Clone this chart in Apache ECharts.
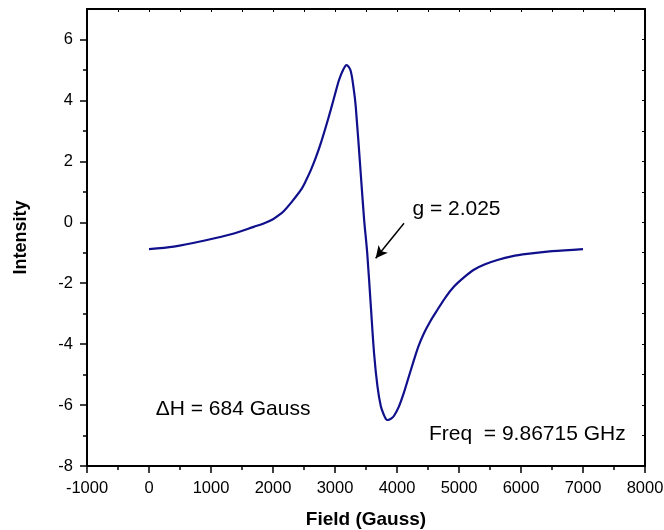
<!DOCTYPE html>
<html>
<head>
<meta charset="utf-8">
<script src="https://cdn.jsdelivr.net/npm/echarts@6/dist/echarts.min.js"></script>
<style>html,body{margin:0;padding:0;background:#fff}#c{width:664px;height:530px}</style>
</head>
<body>
<div id="c"></div>
<script>
// Field (Gauss)
var fieldValues = [0, 400, 900, 1370, 1690, 1850, 2000, 2100, 2180, 2300, 2450, 2530, 2610, 2690, 2770, 2850, 2930, 3000, 3065, 3130, 3185, 3250, 3300, 3335, 3415, 3470, 3520, 3575, 3630, 3685, 3740, 3790, 3820, 3845, 3870, 3910, 3950, 4030, 4110, 4190, 4275, 4350, 4435, 4540, 4650, 4780, 4920, 5080, 5240, 5420, 5620, 5850, 6100, 6500, 7000];
// Intensity
var intensityValues = [-0.88, -0.8, -0.6, -0.37, -0.15, -0.04, 0.1, 0.24, 0.38, 0.66, 1.06, 1.36, 1.71, 2.12, 2.59, 3.12, 3.68, 4.2, 4.67, 5.0, 5.16, 4.99, 4.4, 3.79, 1.6, 0.08, -1.02, -2.66, -4.3, -5.39, -6.05, -6.33, -6.45, -6.49, -6.48, -6.44, -6.36, -6.05, -5.6, -5.07, -4.51, -4.05, -3.64, -3.24, -2.88, -2.47, -2.11, -1.81, -1.56, -1.38, -1.24, -1.12, -1.04, -0.95, -0.88];

var yMajorTicks = [-8, -6, -4, -2, 0, 2, 4, 6];
var yMinorTicks = [-7, -5, -3, -1, 1, 3, 5];

var annotationTexts = ['g = 2.025', '\u0394H = 684 Gauss', 'Freq  = 9.86715 GHz'];
var annotationAnchors = [[4248, 0.44], [108, -6.12], [4516, -6.94]];
var arrowFrom = [4113, -0.03];
var arrowTo = [3656, -1.18];

var FONT = "'Liberation Sans', Arial, sans-serif";
var chart = echarts.init(document.getElementById('c'), null, {renderer: 'canvas'});

var seriesData = fieldValues.map(function (f, i) { return [f, intensityValues[i]]; });
var plain = function (v) { return String(v); };

var option = {
  animation: false,
  backgroundColor: '#fff',
  grid: {left: 87, right: 19, top: 9, bottom: 64, containLabel: false, outerBoundsMode: 'none'},
  xAxis: [{
    type: 'value', position: 'bottom', min: -1000, max: 8000, interval: 1000,
    name: 'Field (Gauss)', nameLocation: 'middle', nameGap: 44,
    nameTextStyle: {fontFamily: FONT, fontSize: 19, fontWeight: 'bold', color: '#000'},
    axisLine: {show: true, onZero: false, lineStyle: {color: '#000', width: 2}},
    axisTick: {show: true, inside: false, length: 7, lineStyle: {color: '#000', width: 1.5}},
    minorTick: {show: true, splitNumber: 2, length: 4, lineStyle: {color: '#000', width: 1.5}},
    axisLabel: {fontFamily: FONT, fontSize: 16.5, color: '#000', margin: 14, formatter: plain, hideOverlap: false},
    splitLine: {show: false}
  }, {
    type: 'value', position: 'top', min: -1000, max: 8000, interval: 500,
    axisLine: {show: true, onZero: false, lineStyle: {color: '#000', width: 2}},
    axisTick: {show: true, inside: true, length: 3, lineStyle: {color: '#000', width: 1}},
    axisLabel: {show: false}, splitLine: {show: false}
  }],
  yAxis: [{
    type: 'value', position: 'left', min: -8, max: 7, interval: 1,
    name: 'Intensity', nameLocation: 'middle', nameGap: 57,
    nameTextStyle: {fontFamily: FONT, fontSize: 18, fontWeight: 'bold', color: '#000'},
    axisLine: {show: true, onZero: false, lineStyle: {color: '#000', width: 2}},
    axisTick: {show: true, inside: false, length: 7, customValues: yMajorTicks, lineStyle: {color: '#000', width: 1.5}},
    axisLabel: {fontFamily: FONT, fontSize: 16.5, color: '#000', margin: 14, customValues: yMajorTicks, formatter: plain},
    splitLine: {show: false}
  }, {
    type: 'value', position: 'left', min: -8, max: 7, interval: 1,
    axisLine: {show: false, onZero: false},
    axisTick: {show: true, inside: false, length: 4, customValues: yMinorTicks, lineStyle: {color: '#000', width: 1.5}},
    axisLabel: {show: false}, splitLine: {show: false}
  }, {
    type: 'value', position: 'right', min: -8, max: 7, interval: 1,
    axisLine: {show: true, onZero: false, lineStyle: {color: '#000', width: 2}},
    axisTick: {show: true, inside: true, length: 3, lineStyle: {color: '#000', width: 1}},
    axisLabel: {show: false}, splitLine: {show: false}
  }],
  series: [{
    type: 'line',
    xAxisIndex: 0, yAxisIndex: 0,
    data: seriesData,
    showSymbol: false,
    smooth: 0.3,
    lineStyle: {color: '#10108c', width: 2.2},
    markLine: {
      silent: true,
      symbol: ['none', 'arrow'],
      symbolSize: [9, 12],
      label: {show: false},
      lineStyle: {color: '#000', width: 1.5, type: 'solid'},
      data: [[{coord: arrowFrom}, {coord: arrowTo}]]
    }
  }]
};
chart.setOption(option);

var graphics = annotationTexts.map(function (t, i) {
  var p = chart.convertToPixel({xAxisIndex: 0, yAxisIndex: 0}, annotationAnchors[i]);
  return {
    type: 'text', x: p[0], y: p[1],
    style: {text: t, fontFamily: FONT, fontSize: 21, fill: '#000', textAlign: 'left', textVerticalAlign: 'middle'}
  };
});
chart.setOption({graphic: graphics});
</script>
</body>
</html>
